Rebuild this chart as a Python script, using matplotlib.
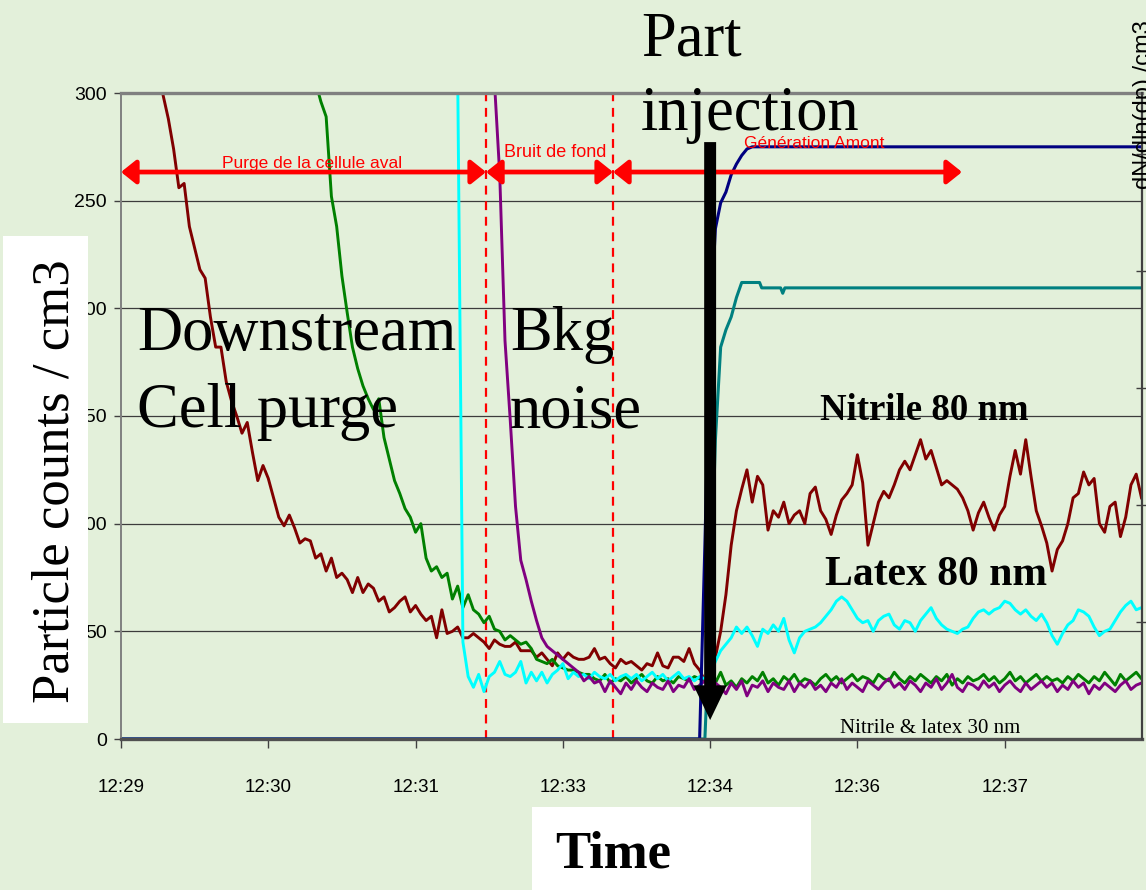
import matplotlib
matplotlib.use("Agg")
import matplotlib.pyplot as plt
import numpy as np
from matplotlib.patches import Rectangle, FancyArrowPatch

W, H = 1146, 890

# time in minutes after 12:29, one sample every 3 s
DT = 0.05
T_END = 9.705
TICK_STEP = 1.4
tick_labels = ["12:29", "12:30", "12:31", "12:33", "12:34", "12:36", "12:37"]

# phase boundaries (minutes)
purge_end = 3.47
bkg_end = 4.677
injection = 5.6
generation_end = 7.994

# Nitrile 80 nm (dark red), first sample index 8
nitrile80_start = 8
nitrile80 = [299, 288, 274, 256, 258, 238, 228, 218, 214, 196,
             182, 182, 166, 157, 150, 142, 147, 133, 120, 127,
             121, 112, 103, 99, 104, 98, 91, 93, 92, 84,
             86, 78, 84, 75, 77, 74, 68, 75, 68, 72,
             70, 64, 66, 59, 61, 64, 66, 59, 62, 58,
             55, 57, 47, 60, 49, 50, 52, 47, 47, 49,
             47, 45, 42, 46, 44, 43, 43, 45, 41, 41,
             41, 38, 40, 37, 34, 40, 37, 40, 38, 37,
             37, 38, 42, 37, 38, 35, 33, 37, 35, 36,
             34, 32, 35, 34, 40, 34, 33, 38, 38, 36,
             42, 35, 32, 27, 30, 38, 50, 67, 90, 106,
             116, 125, 110, 122, 118, 97, 106, 103, 110, 100,
             104, 106, 100, 114, 117, 106, 102, 95, 104, 111,
             114, 118, 132, 119, 90, 100, 110, 115, 112, 118,
             125, 129, 125, 132, 139, 130, 134, 126, 118, 120,
             118, 116, 112, 106, 97, 105, 110, 103, 97, 104,
             108, 122, 134, 123, 139, 122, 106, 99, 91, 78,
             88, 92, 100, 112, 114, 124, 118, 121, 100, 96,
             108, 110, 94, 103, 118, 123, 112]

# Nitrile 30 nm (green), first sample index 37
nitrile30_start = 37
nitrile30 = [305, 296, 289, 252, 238, 215, 198, 182, 172, 164,
             158, 153, 158, 140, 130, 120, 114, 107, 103, 96,
             100, 84, 78, 80, 75, 77, 65, 71, 61, 67,
             60, 58, 54, 57, 51, 50, 46, 48, 46, 44,
             45, 42, 37, 36, 35, 37, 34, 33, 32, 32,
             31, 30, 30,
             28, 27, 30, 26, 28, 27, 29, 26, 28, 30,
             27, 26, 29, 27, 28, 26, 29, 28, 27, 29,
             28, 27, 29, 26, 31, 25, 27, 24, 28, 26,
             29, 27, 31, 26, 28, 25, 29, 27, 30, 26,
             28, 27, 25, 28, 30, 27, 29, 26, 28, 30,
             27, 29, 28, 26, 30, 28, 27, 31, 28, 26,
             29, 27, 30, 28, 26, 29, 27, 30, 25, 28,
             26, 29, 27, 28, 30, 27, 29, 26, 28, 31,
             27, 29, 26, 28, 30, 27, 29, 27, 28, 26,
             29, 27, 30, 28, 26, 29, 27, 31, 28, 25,
             30, 27, 29, 31, 28]

# Latex 80 nm (cyan), first sample index 64
latex80_start = 64
latex80 = [310, 45, 29, 24, 30, 22, 29, 31, 36, 30,
           29, 31, 36, 26, 31, 27, 31, 26, 30, 32,
           35, 28, 31, 29, 30, 28, 31, 29, 28, 30,
           27, 29, 30, 28, 30, 27, 29, 31, 28, 30,
           27, 29, 31, 28, 29, 27, 29, 28, 30, 36,
           41, 44, 47, 52, 49, 52, 48, 43, 51, 49,
           53, 50, 56, 46, 40, 47, 50, 51, 52, 54,
           57, 60, 64, 66, 64, 60, 56, 54, 55, 50,
           55, 57, 58, 53, 51, 55, 54, 50, 55, 58,
           61, 56, 53, 51, 50, 49, 51, 52, 56, 59,
           60, 58, 60, 61, 64, 63, 60, 58, 60, 57,
           55, 58, 54, 48, 44, 49, 53, 55, 60, 59,
           57, 52, 48, 50, 51, 55, 59, 62, 64, 60,
           61]

# Latex 30 nm (purple), first sample index 71
latex30_start = 71
latex30 = [305, 262, 185, 148, 108, 83, 74, 64, 55, 47,
           43, 41, 39, 37, 35, 33, 31, 27, 29, 26,
           27, 22, 27, 24, 21, 26, 23, 27, 24, 22,
           26, 24, 23, 27, 22, 25, 24, 28, 23, 25,
           27, 22, 26, 24, 21, 26, 23, 27, 20, 25,
           24, 27, 22, 26, 24, 23, 27, 22, 26, 24,
           27, 23, 25, 22, 26, 24, 28, 23, 26, 24,
           22, 27, 25, 23, 26, 28, 24, 26, 23, 27,
           25, 22, 26, 24, 28, 23, 26, 30, 24, 22,
           26, 25, 23, 27, 24, 26, 22, 25, 27, 24,
           22, 26, 23, 25, 27, 24, 26, 22, 25, 23,
           27, 24, 26, 21, 25, 23, 26, 24, 22, 25,
           27, 23, 25, 26]

# upstream generation (navy and teal)
upstream_a_t = [0, 5.5, 5.55, 5.6, 5.65, 5.7, 5.75, 5.8, 5.85, 5.9, 5.95, 6.0, T_END]
upstream_a = [0, 0, 90, 190, 237, 249, 254, 262, 267, 271, 274, 275, 275]
upstream_b_t = [0, 5.55, 5.6, 5.65, 5.7, 5.75, 5.8, 5.85, 5.9, 6.07, 6.09, 6.27, 6.29, 6.31, T_END]
upstream_b = [0, 0, 60, 139, 182, 190, 196, 205, 212, 212, 209.5, 209.5, 207, 209.5, 209.5]


def times(start, vals):
    return (start + np.arange(len(vals))) * DT


def fx(px):
    return px / W


def fy(py):
    return 1 - py / H


SERIF = ["Liberation Serif", "DejaVu Serif"]
SANS = ["Liberation Sans", "DejaVu Sans"]

fig = plt.figure(figsize=(W / 100, H / 100), dpi=100, facecolor="#e3f0da")
ax = fig.add_axes([fx(121), fy(739), (1142 - 121) / W, (739 - 93) / H])
ax.set_facecolor("none")

ax.plot(upstream_b_t, upstream_b, color="#008080", lw=2.2, zorder=3)
ax.plot(upstream_a_t, upstream_a, color="#000080", lw=2.2, zorder=4)
ax.plot(times(nitrile80_start, nitrile80), nitrile80, color="#800000", lw=2.1, zorder=3)
ax.plot(times(nitrile30_start, nitrile30), nitrile30, color="#008000", lw=2.1, zorder=3)
ax.plot(times(latex80_start, latex80), latex80, color="#00ffff", lw=2.1, zorder=3)
ax.plot(times(latex30_start, latex30), latex30, color="#800080", lw=2.1, zorder=3)

ax.set_xlim(0, T_END)
ax.set_ylim(0, 300)
ax.set_yticks(np.arange(0, 301, 50))
ax.set_xticks(np.arange(len(tick_labels)) * TICK_STEP)
ax.set_xticklabels(tick_labels, family=SANS, fontsize=13.5)
ax.set_yticklabels([str(v) for v in range(0, 301, 50)], family=SANS, fontsize=14)
ax.grid(axis="y", color="#3c3c3c", lw=0.9, zorder=1)
ax.tick_params(axis="y", direction="out", length=5, width=1, color="#404040", pad=5)
ax.tick_params(axis="x", direction="out", length=6.5, width=1, color="#404040", pad=22)

for side in ["left", "right", "top", "bottom"]:
    ax.spines[side].set_zorder(5)
ax.spines["top"].set_color("#808080")
ax.spines["top"].set_linewidth(2.4)
ax.spines["left"].set_color("#808080")
ax.spines["left"].set_linewidth(1.4)
ax.spines["bottom"].set_color("#505050")
ax.spines["bottom"].set_linewidth(2.4)
ax.spines["right"].set_visible(False)

ax2 = ax.twinx()
ax2.set_ylim(0, 5.52)
ax2.set_yticks([1, 2, 3, 4, 5])
ax2.tick_params(axis="y", direction="inout", length=8, width=1, color="#404040", labelright=False)
for side in ["left", "top", "bottom"]:
    ax2.spines[side].set_visible(False)
ax2.spines["right"].set_color("#404040")
ax2.spines["right"].set_linewidth(1.6)

# phase boundaries
for xb in [purge_end, bkg_end]:
    ax.axvline(xb, color="#ff0000", lw=1.6, ls=(0, (4, 3)), zorder=2)

# red double arrows with phase names
arrow_y = 263.3
for x0, x1 in [(0, purge_end), (purge_end, bkg_end), (bkg_end, generation_end)]:
    ax.add_patch(FancyArrowPatch((x0, arrow_y), (x1, arrow_y),
                                 arrowstyle="<|-|>,head_length=0.45,head_width=0.36",
                                 mutation_scale=20, color="#ff0000", lw=3.4,
                                 shrinkA=0, shrinkB=0, clip_on=False, zorder=6))
ax.text(1.816, 265.2, "Purge de la cellule aval", color="#ff0000", family=SANS,
        fontsize=12.5, ha="center", va="baseline", zorder=6)
ax.text(4.126, 270.3, "Bruit de fond", color="#ff0000", family=SANS,
        fontsize=13, ha="center", va="baseline", zorder=6)
ax.text(6.588, 274.5, "Génération Amont", color="#ff0000", family=SANS,
        fontsize=12.5, ha="center", va="baseline", zorder=6)

# injection arrow
ax.add_patch(FancyArrowPatch((injection, 277.2), (injection, 8.8),
                             arrowstyle="simple,head_length=2.5,head_width=2.4,tail_width=0.86",
                             mutation_scale=10, color="black", lw=0,
                             shrinkA=0, shrinkB=0, clip_on=False, zorder=7))

# big annotations
big = dict(family=SERIF, fontsize=45, color="black", va="baseline", ha="left", zorder=8)
fig.text(fx(137), fy(350), "Downstream", **big)
fig.text(fx(137), fy(427), "Cell purge", **big)
fig.text(fx(510), fy(350), "Bkg", **big)
fig.text(fx(510), fy(427), "noise", **big)
fig.text(fx(641), fy(55), "Part", **big)
fig.text(fx(641), fy(130), "injection", **big)

fig.text(fx(820), fy(420), "Nitrile 80 nm", family=SERIF, fontsize=26.5,
         fontweight="bold", va="baseline", ha="left")
fig.text(fx(825), fy(585), "Latex 80 nm", family=SERIF, fontsize=30,
         fontweight="bold", va="baseline", ha="left")
fig.text(fx(840), fy(733), "Nitrile & latex 30 nm", family=SERIF, fontsize=15,
         va="baseline", ha="left")

# axis titles on white boxes
fig.patches.append(Rectangle((fx(3), fy(723)), (88 - 3) / W, (723 - 236) / H,
                             transform=fig.transFigure, fc="white", ec="none", zorder=2))
fig.text(fx(69), fy(481), "Particle counts / cm3", family=SERIF, fontsize=38,
         rotation=90, rotation_mode="anchor", ha="center", va="baseline", zorder=3)

fig.patches.append(Rectangle((fx(532), fy(890)), (811 - 532) / W, (890 - 807) / H,
                             transform=fig.transFigure, fc="white", ec="none", zorder=2))
fig.text(fx(555), fy(867), "Time", family=SERIF, fontsize=38, fontweight="bold",
         ha="left", va="baseline", zorder=3)

# right axis title, cut by the slide edge
fig.text(fx(1150), fy(105), "dN/dln(dp) /cm3", family=SANS,
         fontsize=17, rotation=90, rotation_mode="anchor", ha="center", va="baseline")

fig.savefig("out.png", dpi=100, facecolor=fig.get_facecolor())
